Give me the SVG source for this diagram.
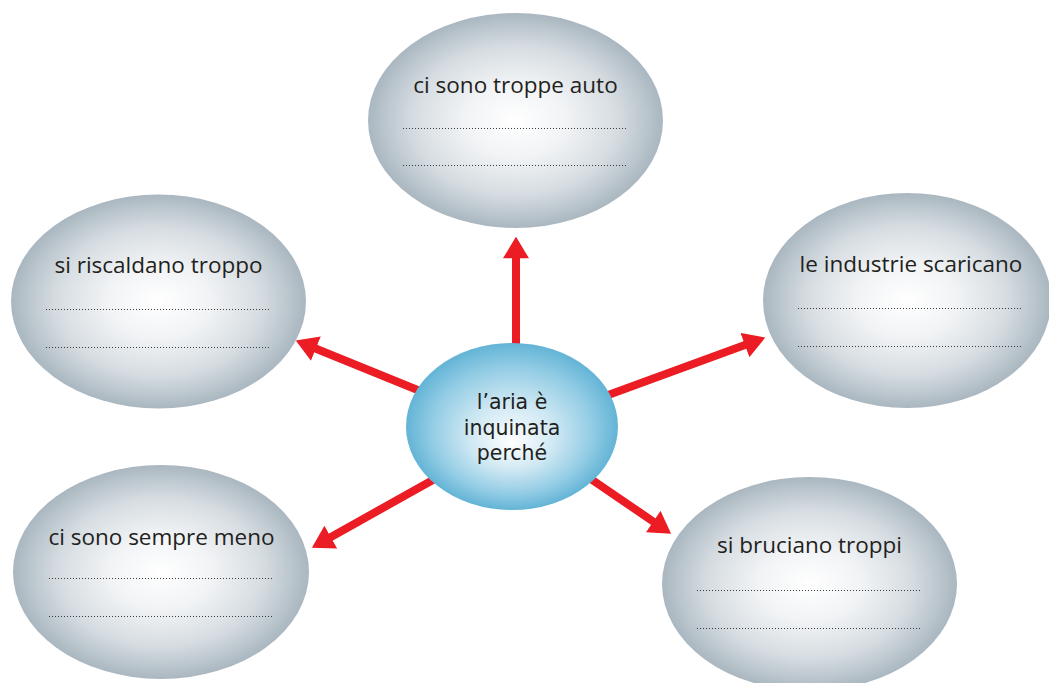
<svg xmlns="http://www.w3.org/2000/svg" width="1049" height="683" viewBox="0 0 1049 683">
  <defs>
    <radialGradient id="grey" cx="0.5" cy="0.5" r="0.5" fx="0.5" fy="0.5">
      <stop offset="0" stop-color="#ffffff"/>
      <stop offset="0.35" stop-color="#f1f3f5"/>
      <stop offset="0.7" stop-color="#d5dce1"/>
      <stop offset="1" stop-color="#aab7c0"/>
    </radialGradient>
    <radialGradient id="blue" cx="0.5" cy="0.5" r="0.5" fx="0.5" fy="0.6">
      <stop offset="0" stop-color="#ffffff"/>
      <stop offset="0.4" stop-color="#cfe8f3"/>
      <stop offset="0.75" stop-color="#94cde5"/>
      <stop offset="1" stop-color="#63b4d6"/>
    </radialGradient>
    <marker id="head" markerUnits="userSpaceOnUse" markerWidth="22" markerHeight="26" viewBox="0 0 20 24" refX="4" refY="12" orient="auto">
      <path d="M0,0 L20,12 L0,24 Z" fill="#ec1c24"/>
    </marker>
  </defs>
  <style>
    .node { fill: url(#grey); }
    .lbl { font-family: "Open Sans", "Noto Sans", "DejaVu Sans", sans-serif; font-size: 22.5px; fill: #231f20; text-anchor: middle; }
    .clbl { font-family: "DejaVu Sans", sans-serif; font-size: 20.5px; fill: #231f20; text-anchor: middle; }
    .dots { stroke: #3a3a3a; stroke-width: 1; stroke-dasharray: 1 2; fill: none; }
    .arrow { stroke: #ec1c24; stroke-width: 8; fill: none; marker-end: url(#head); }
  </style>
  <rect width="1049" height="683" fill="#ffffff"/>

  <g id="connectors">
    <line class="arrow" x1="516" y1="350" x2="516" y2="254"/>
    <line class="arrow" x1="425" y1="393" x2="311.8" y2="347"/>
    <line class="arrow" x1="600" y1="398" x2="749" y2="343.5"/>
    <line class="arrow" x1="440" y1="476" x2="327" y2="539.2"/>
    <line class="arrow" x1="585" y1="475" x2="656.8" y2="524"/>
  </g>

  <g id="node-top">
    <ellipse class="node" cx="515.5" cy="120.5" rx="147.5" ry="107.5"/>
    <text class="lbl" x="515.5" y="93">ci sono troppe auto</text>
    <line class="dots" x1="403" y1="128.5" x2="628" y2="128.5"/>
    <line class="dots" x1="403" y1="165.5" x2="628" y2="165.5"/>
  </g>

  <g id="node-left-upper">
    <ellipse class="node" cx="158.5" cy="301.5" rx="147.5" ry="107"/>
    <text class="lbl" x="158.5" y="273">si riscaldano troppo</text>
    <line class="dots" x1="46" y1="309.5" x2="271" y2="309.5"/>
    <line class="dots" x1="46" y1="347.5" x2="271" y2="347.5"/>
  </g>

  <g id="node-right">
    <ellipse class="node" cx="907" cy="300.5" rx="144" ry="107.5"/>
    <text class="lbl" x="911" y="272">le industrie scaricano</text>
    <line class="dots" x1="798" y1="308.5" x2="1023" y2="308.5"/>
    <line class="dots" x1="798" y1="346.5" x2="1023" y2="346.5"/>
  </g>

  <g id="node-left-lower">
    <ellipse class="node" cx="161" cy="572" rx="148" ry="107"/>
    <text class="lbl" x="161.5" y="545">ci sono sempre meno</text>
    <line class="dots" x1="49" y1="578.5" x2="274" y2="578.5"/>
    <line class="dots" x1="49" y1="616.5" x2="274" y2="616.5"/>
  </g>

  <g id="node-right-lower">
    <ellipse class="node" cx="809.5" cy="584" rx="147.5" ry="107"/>
    <text class="lbl" x="809.5" y="553">si bruciano troppi</text>
    <line class="dots" x1="697" y1="590.5" x2="922" y2="590.5"/>
    <line class="dots" x1="697" y1="628.5" x2="922" y2="628.5"/>
  </g>

  <g id="node-center">
    <ellipse cx="512" cy="426.5" rx="106" ry="83.5" fill="url(#blue)"/>
    <text class="clbl" x="512" y="409">l’aria è</text>
    <text class="clbl" x="512" y="434.5">inquinata</text>
    <text class="clbl" x="512" y="460">perché</text>
  </g>
</svg>
